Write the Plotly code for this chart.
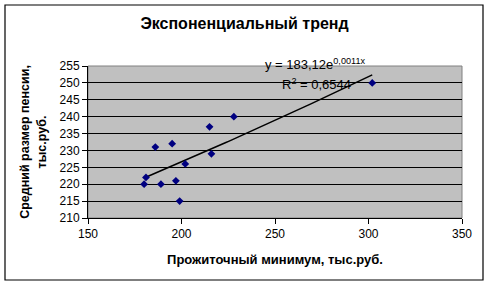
import numpy as np
import plotly.graph_objects as go

# Data
x_min_living = [180, 181, 186, 189, 195, 197, 199, 202, 215, 216, 228, 302]
y_pension = [220, 222, 231, 220, 232, 221, 215, 226, 237, 229, 240, 250]

x_ticks = [150, 200, 250, 300, 350]
y_ticks = [210, 215, 220, 225, 230, 235, 240, 245, 250, 255]

title_text = "Экспоненциальный тренд"
x_title = "Прожиточный минимум, тыс.руб."
y_title = "Средний размер пенсии,<br>тыс.руб."
eq_text = "y = 183,12e<sup>0,0011x</sup>"
r2_text = "R<sup>2</sup> = 0,6544"

# exponential trend fitted to data
xa = np.array(x_min_living, float)
ya = np.array(y_pension, float)
b, ln_a = np.polyfit(xa, np.log(ya), 1)
xt = np.linspace(xa.min(), xa.max(), 60)
yt = np.exp(ln_a) * np.exp(b * xt)

FONT = "Liberation Sans, Arial, sans-serif"
PW, PH = 374, 152

fig = go.Figure()
fig.add_trace(go.Scatter(x=xt, y=yt, mode="lines",
                         line=dict(color="black", width=1.5), hoverinfo="skip"))
fig.add_trace(go.Scatter(x=x_min_living, y=y_pension, mode="markers",
                         marker=dict(symbol="diamond", size=6, color="#000080")))

fig.update_layout(
    width=489, height=287,
    margin=dict(l=88, r=27, t=66, b=69),
    paper_bgcolor="white", plot_bgcolor="#C0C0C0",
    showlegend=False,
    font=dict(family=FONT, size=12, color="black"),
    title=dict(text="<b>" + title_text + "</b>", x=0.5, xanchor="center",
               y=1 - 23 / 287, yanchor="middle", font=dict(size=16, family=FONT)),
    shapes=[
        dict(type="rect", xref="paper", yref="paper", x0=0, x1=1, y0=0, y1=1,
             line=dict(color="#808080", width=1), layer="below"),
        dict(type="rect", xref="paper", yref="paper",
             x0=-83 / PW, x1=(483 - 88) / PW,
             y0=-(280 - 218) / PH, y1=(218 - 5) / PH,
             line=dict(color="black", width=1.2)),
    ],
    annotations=[
        dict(text=eq_text, x=(315 - 88) / PW, y=(218 - 64) / PH, xref="paper", yref="paper",
             showarrow=False, xanchor="center", yanchor="middle",
             font=dict(size=13, family=FONT)),
        dict(text=r2_text, x=(316 - 88) / PW, y=(218 - 84) / PH, xref="paper", yref="paper",
             showarrow=False, xanchor="center", yanchor="middle",
             font=dict(size=13, family=FONT)),
    ],
)
fig.update_xaxes(range=[150, 350], tickvals=x_ticks, showgrid=False,
                 showline=True, linecolor="black", linewidth=1,
                 ticks="outside", ticklen=5, tickcolor="black",
                 zeroline=False, tickfont=dict(size=12),
                 title=dict(text="<b>" + x_title + "</b>", standoff=14,
                            font=dict(size=13)))
fig.update_yaxes(range=[210, 255], tickvals=y_ticks, showgrid=True,
                 gridcolor="black", gridwidth=1,
                 showline=True, linecolor="black", linewidth=1,
                 ticks="outside", ticklen=5, tickcolor="black",
                 zeroline=False, tickfont=dict(size=12),
                 title=dict(text="<b>" + y_title + "</b>", standoff=10,
                            font=dict(size=12.5)))

fig.write_html("out.html")
